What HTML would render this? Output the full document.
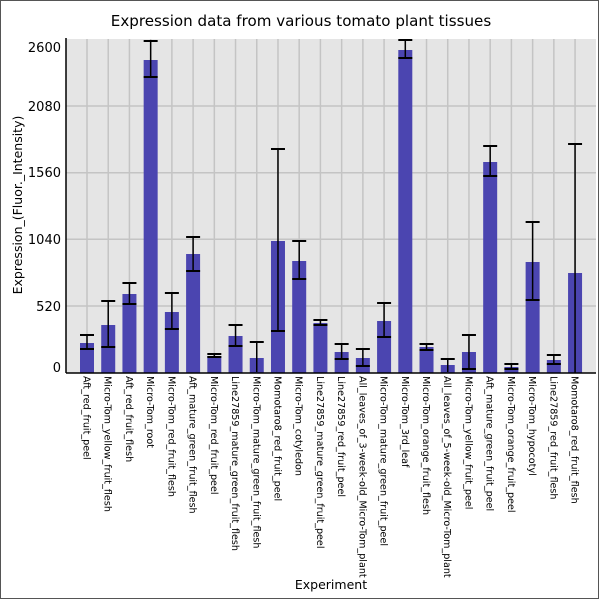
<!DOCTYPE html>
<html><head><meta charset="utf-8"><style>
html,body{margin:0;padding:0;background:#fff;}
svg text{font-family:"DejaVu Sans","Liberation Sans",sans-serif;fill:#000;}
</style></head><body>
<svg width="600" height="600" viewBox="0 0 600 600" xmlns="http://www.w3.org/2000/svg">
<rect x="0.5" y="0.5" width="598" height="598" fill="#fff" stroke="#555" stroke-width="1"/>
<text x="301" y="26" font-size="15.1" text-anchor="middle">Expression data from various tomato plant tissues</text>
<rect x="66" y="39" width="530" height="334" fill="#e5e5e5"/>
<g id="grid" stroke="#c4c4c4" stroke-width="1.5"></g>
<g id="bars"></g>
<line x1="66" y1="38" x2="66" y2="373" stroke="#000" stroke-width="1.5"/>
<line x1="66" y1="373" x2="596" y2="373" stroke="#000" stroke-width="1.5"/>
<g font-size="13" text-anchor="end">
<text x="61" y="52">2600</text>
<text x="61" y="111">2080</text>
<text x="61" y="177">1560</text>
<text x="61" y="244">1040</text>
<text x="61" y="311">520</text>
<text x="61" y="372">0</text>
</g>
<text transform="translate(22,205) rotate(-90)" font-size="12.5" text-anchor="middle">Expression_(Fluor._Intensity)</text>
<text x="331" y="589" font-size="12.5" text-anchor="middle">Experiment</text>
<g id="labels" font-size="9.6"></g>
</svg>
<script>
var names=["Aft_red_fruit_peel","Micro-Tom_yellow_fruit_flesh","Aft_red_fruit_flesh","Micro-Tom_root","Micro-Tom_red_fruit_flesh","Aft_mature_green_fruit_flesh","Micro-Tom_red_fruit_peel","Line27859_mature_green_fruit_flesh","Micro-Tom_mature_green_fruit_flesh","Momotaro8_red_fruit_peel","Micro-Tom_cotyledon","Line27859_mature_green_fruit_peel","Line27859_red_fruit_peel","All_leaves_of_3-week-old_Micro-Tom_plant","Micro-Tom_mature_green_fruit_peel","Micro-Tom_3rd_leaf","Micro-Tom_orange_fruit_flesh","All_leaves_of_5-week-old_Micro-Tom_plant","Micro-Tom_yellow_fruit_peel","Aft_mature_green_fruit_peel","Micro-Tom_orange_fruit_peel","Micro-Tom_hypocotyl","Line27859_red_fruit_flesh","Momotaro8_red_fruit_flesh"];
var tops=[343,325,294,60,312,254,356,336,358,241,261,323,352,358,321,50,347,365,352,162,367,262,360,273];
var eh=[335,301,283,41,293,237,354,325,342,149,241,320,344,349,303,40,344,359,335,146,364,222,355,144];
var el=[349,347,304,77,329,271,357,346,372,331,279,325,359,366,337,58,350,372,369,176,369,300,364,373];
var ns="http://www.w3.org/2000/svg";
function mk(p,t,a){var e=document.createElementNS(ns,t);for(var k in a)e.setAttribute(k,a[k]);p.appendChild(e);return e;}
var g=document.getElementById("grid"),b=document.getElementById("bars"),l=document.getElementById("labels");
[306,239.3,172.7,106].forEach(function(y){mk(g,"line",{x1:66,x2:596,y1:y,y2:y});});
for(var i=0;i<24;i++){var c=87+21.22*i;
mk(g,"line",{x1:c,x2:c,y1:39,y2:373});}
for(var i=0;i<24;i++){var c=87+21.22*i;
mk(b,"rect",{x:c-7,y:tops[i],width:14,height:373-tops[i],fill:"#4b45b0"});
mk(b,"line",{x1:c,x2:c,y1:eh[i],y2:el[i],stroke:"#000","stroke-width":1.5});
mk(b,"line",{x1:c-7,x2:c+7,y1:eh[i],y2:eh[i],stroke:"#000","stroke-width":2});
if(el[i]<372)mk(b,"line",{x1:c-7,x2:c+7,y1:el[i],y2:el[i],stroke:"#000","stroke-width":2});
var t=mk(l,"text",{transform:"translate("+(c-3.5)+",376) rotate(90)"});t.textContent=names[i];}
</script>
</body></html>
